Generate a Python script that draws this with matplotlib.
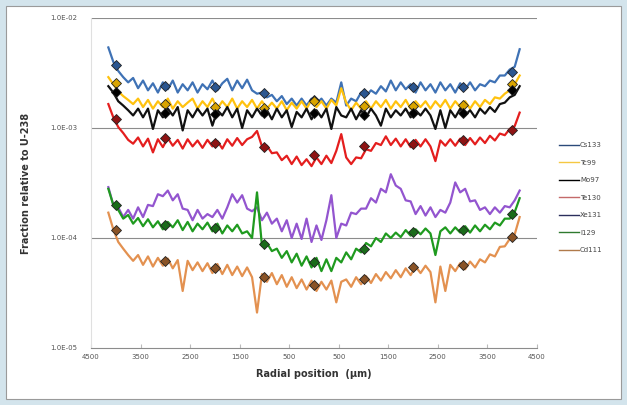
import numpy as np
import matplotlib
matplotlib.use("Agg")
import matplotlib.pyplot as plt
from matplotlib.patches import Rectangle

# radial positions (um), one reading every 100 um
radial = np.arange(-4150, 4151, 100)

cs133 = np.array([5.4, 4.0, 3.3, 2.9, 2.6, 2.85,
                  2.3, 2.7, 2.2, 2.55, 2.1, 2.6, 2.25, 2.7, 2.1, 2.5, 2.2, 2.6, 2.1, 2.5, 2.25, 2.7, 2.2, 2.55,
                  2.8, 2.2, 2.7, 2.3, 2.75, 2.2,
                  2.05, 2.1, 1.9, 2.0, 1.75, 1.95, 1.65, 1.85, 1.6, 1.85, 1.6, 1.85, 1.65, 1.85, 1.6, 1.85,
                  1.7, 2.6, 1.6, 1.85, 1.75, 2.1, 1.95, 2.2, 2.05, 2.4, 2.15, 2.7, 2.2, 2.6, 2.25, 2.5, 2.1, 2.6,
                  2.2, 2.5, 2.1, 2.6, 2.2, 2.5, 2.1, 2.55, 2.25, 2.6, 2.2, 2.5, 2.4, 2.7, 2.6, 3.0, 3.0, 3.4,
                  3.6, 5.2]) * 1e-3
tc99 = np.array([2.9, 2.5, 2.15, 1.95, 1.8, 1.65,
                 1.85, 1.55, 1.8, 1.5, 1.75, 1.55, 1.85, 1.5, 1.75, 1.55, 1.7, 1.85, 1.5, 1.75, 1.55, 1.85, 1.5, 1.75,
                 1.55, 1.85, 1.5, 1.75, 1.55, 1.8,
                 1.5, 1.75, 1.5, 1.7, 1.5, 1.75, 1.45, 1.7, 1.5, 1.75, 1.5, 1.8, 1.55, 1.75, 1.5, 1.8,
                 1.6, 2.3, 1.7, 1.45, 1.7, 1.5, 1.75, 1.5, 1.75, 1.55, 1.8, 1.5, 1.75, 1.55, 1.8, 1.5, 1.75, 1.55,
                 1.75, 1.5, 1.75, 1.55, 1.8, 1.5, 1.75, 1.55, 1.75, 1.5, 1.75, 1.55, 1.8, 1.65, 1.9, 1.85, 2.05, 2.2,
                 2.5, 3.0]) * 1e-3
mo97 = np.array([2.4, 2.1, 1.75, 1.6, 1.45, 1.3,
                 1.5, 1.25, 1.5, 0.98, 1.45, 1.25, 1.5, 1.3, 1.55, 0.95, 1.45, 1.25, 1.5, 1.3, 1.5, 1.05, 1.45, 1.3,
                 1.55, 1.25, 1.5, 1.0, 1.45, 1.25,
                 1.5, 1.3, 1.45, 1.2, 1.5, 1.25, 1.45, 1.02, 1.4, 1.25, 1.5, 1.2, 1.45, 1.25, 1.5, 0.98,
                 1.55, 1.3, 1.25, 1.5, 1.2, 1.45, 1.25, 1.5, 1.3, 1.05, 1.5, 1.25, 1.45, 1.3, 1.5, 1.25, 1.45, 1.3,
                 1.5, 1.3, 0.98, 1.45, 1.0, 1.45, 1.25, 1.5, 1.3, 1.45, 1.25, 1.5, 1.35, 1.55, 1.4, 1.65, 1.7, 1.9,
                 2.0, 2.4]) * 1e-3
te130 = np.array([16.5, 12.5, 10.2, 9.0, 7.8, 7.2,
                  8.2, 6.8, 8.0, 6.0, 7.9, 6.7, 8.1, 6.9, 7.8, 6.5, 7.9, 6.8, 7.7, 6.6, 7.8, 6.8, 7.6, 6.5,
                  7.9, 6.9, 8.1, 7.0, 7.9, 8.3,
                  9.4, 6.8, 6.9, 5.9, 6.0, 5.1, 5.6, 4.7, 5.5, 4.6, 5.2, 4.5, 5.4, 4.7, 5.6, 4.8,
                  6.2, 8.8, 5.4, 4.7, 5.4, 5.3, 6.4, 6.2, 7.3, 7.0, 8.4, 7.0, 8.0, 6.8, 7.9, 6.7, 7.8, 6.8,
                  7.9, 6.8, 5.0, 7.7, 6.9, 7.9, 6.9, 8.0, 7.0, 8.1, 7.1, 8.2, 7.3, 8.5, 7.7, 8.9, 8.6, 9.8,
                  10.4, 13.8]) * 1e-4
xe131 = np.array([2.9, 2.0, 1.9, 1.55, 1.8, 1.5,
                  1.9, 1.55, 2.0, 1.95, 2.5, 2.4, 2.7, 2.2, 2.5, 1.85, 1.8, 1.45, 1.8, 1.5, 1.65, 1.55, 1.8, 1.5,
                  1.9, 2.5, 2.1, 2.45, 1.85, 1.75,
                  1.9, 1.45, 1.7, 1.35, 1.5, 1.15, 1.45, 1.0, 1.35, 0.98, 1.5, 0.92, 1.3, 0.96, 1.45, 2.45,
                  1.0, 1.35, 1.3, 1.7, 1.65, 1.85, 1.85, 2.3, 2.1, 2.8, 2.6, 3.8, 3.0, 2.8, 2.2, 2.15, 1.65, 1.95,
                  1.6, 1.9, 1.55, 1.8, 1.7, 2.1, 3.2, 2.6, 2.8, 2.15, 2.2, 1.8, 1.9, 1.65, 1.9, 1.7, 1.95, 1.9,
                  2.2, 2.7]) * 1e-4
i129 = np.array([2.8, 2.0, 1.8, 1.5, 1.62, 1.35,
                 1.52, 1.28, 1.48, 1.25, 1.42, 1.2, 1.4, 1.25, 1.45, 1.18, 1.4, 1.15, 1.35, 1.2, 1.38, 1.15, 1.35, 1.1,
                 1.3, 1.15, 1.32, 1.1, 1.15, 1.0,
                 2.6, 0.85, 0.9, 0.76, 0.8, 0.66, 0.76, 0.6, 0.72, 0.56, 0.68, 0.54, 0.66, 0.5, 0.64, 0.5,
                 0.66, 0.6, 0.74, 0.64, 0.8, 0.74, 0.9, 0.84, 1.0, 0.92, 1.1, 1.0, 1.12, 1.02, 1.18, 1.05, 1.2, 1.08,
                 1.22, 1.1, 0.7, 1.15, 1.25, 1.1, 1.25, 1.12, 1.28, 1.12, 1.3, 1.15, 1.32, 1.2, 1.38, 1.3, 1.5, 1.5,
                 1.72, 2.3]) * 1e-4
cd111 = np.array([17, 12, 9.2, 8.0, 7.0, 6.2,
                  7.0, 5.7, 6.8, 5.5, 6.6, 5.6, 6.5, 5.3, 6.3, 3.3, 6.2, 5.1, 6.0, 5.0, 5.9, 4.8, 5.8, 4.7,
                  5.7, 4.6, 5.5, 4.5, 5.4, 4.4,
                  2.1, 4.7, 4.0, 4.8, 3.8, 4.6, 3.6, 4.4, 3.5, 4.2, 3.4, 4.1, 3.3, 4.0, 3.4, 4.1,
                  2.6, 4.0, 4.2, 3.6, 4.4, 3.8, 4.5, 3.9, 4.7, 4.1, 4.9, 4.3, 5.1, 4.4, 5.3, 4.6, 5.5, 4.8,
                  5.6, 4.9, 2.6, 5.5, 3.3, 5.7, 5.0, 5.9, 5.2, 6.1, 5.4, 6.4, 6.0, 7.1, 6.8, 8.3, 8.4, 9.8,
                  10.8, 15.5]) * 1e-5

# diamond markers every 1000 um
mark_x = [-4000, -3000, -2000, -1000, 0, 1000, 2000, 3000, 4000]
cs133_m = np.array([3.74, 2.41, 2.36, 2.08, 1.80, 2.08, 2.36, 2.36, 3.23]) * 1e-3
tc99_m = np.array([2.56, 1.66, 1.55, 1.52, 1.76, 1.58, 1.58, 1.62, 2.5]) * 1e-3
mo97_m = np.array([2.12, 1.37, 1.34, 1.37, 1.37, 1.31, 1.37, 1.37, 2.2]) * 1e-3
te130_m = np.array([12.0, 8.1, 7.3, 6.7, 5.7, 6.8, 7.2, 7.8, 9.6]) * 1e-4
i129_m = np.array([2.0, 1.31, 1.24, 0.88, 0.61, 0.80, 1.13, 1.18, 1.65]) * 1e-4
cd111_m = np.array([11.8, 6.2, 5.3, 4.4, 3.7, 4.2, 5.4, 5.7, 10.2]) * 1e-5

x_ticks = [-4500, -3500, -2500, -1500, -500, 500, 1500, 2500, 3500, 4500]
x_labels = ["4500", "3500", "2500", "1500", "500", "500", "1500", "2500", "3500", "4500"]
y_ticks = [1e-5, 1e-4, 1e-3, 1e-2]
y_labels = ["1.0E-05", "1.0E-04", "1.0E-03", "1.0E-02"]

# name, data, line colour, marker data, marker colour
series = [
    ("Cs133", cs133, "#3f72b5", cs133_m, "#2b5690"),
    ("Tc99", tc99, "#ffc20e", tc99_m, "#d9a400"),
    ("Mo97", mo97, "#111111", mo97_m, "#000000"),
    ("Te130", te130, "#e41e1e", te130_m, "#8e1414"),
    ("Xe131", xe131, "#9355cf", None, None),
    ("I129", i129, "#1f9a1f", i129_m, "#1a6b1a"),
    ("Cd111", cd111, "#e39150", cd111_m, "#8a5326"),
]
legend_colors = ["#2b4a7a", "#f5c842", "#000000", "#c46a6a", "#2b2f5c", "#2f7a2f", "#b07a4a"]

fig = plt.figure(figsize=(6.27, 4.05), dpi=100)
fig.patch.set_facecolor("#d3e4ec")
fig.patches.append(Rectangle((6 / 627, 6 / 405), 615 / 627, 393 / 405, transform=fig.transFigure,
                             facecolor="white", edgecolor="#9a9a9a", linewidth=0.8, zorder=-5))

ax = fig.add_axes([91 / 627, 1 - 348 / 405, 446 / 627, 330 / 405])
ax.set_facecolor("white")
ax.set_yscale("log")
ax.set_xlim(-4500, 4500)
ax.set_ylim(1e-5, 1e-2)

for yv in [1e-4, 1e-3, 1e-2]:
    ax.axhline(yv, color="#8c8c8c", linewidth=0.8, zorder=1)

handles = []
for (name, vals, col, mvals, mcol), lcol in zip(series, legend_colors):
    ax.plot(radial, vals, color=col, linewidth=1.6, zorder=3)
    if mvals is not None:
        ax.plot(mark_x, mvals, linestyle="none", marker="D", markersize=5.5,
                markerfacecolor=mcol, markeredgecolor="#222222", markeredgewidth=0.6, zorder=4)
    h, = ax.plot([], [], color=lcol, linewidth=1.0, label=name)
    handles.append(h)

for s in ["top", "right"]:
    ax.spines[s].set_visible(False)
ax.spines["left"].set_color("#e0e0e0")
ax.spines["bottom"].set_color("#8c8c8c")
ax.spines["bottom"].set_linewidth(0.8)

ax.set_xticks(x_ticks)
ax.set_xticklabels(x_labels, fontsize=5, color="#555555")
ax.set_yticks(y_ticks)
ax.set_yticklabels(y_labels, fontsize=5, color="#555555")
ax.minorticks_off()
ax.tick_params(axis="x", length=3, color="#bbbbbb", direction="in", pad=4)
ax.tick_params(axis="y", length=0, pad=10)

ax.set_xlabel("Radial position  (\u00b5m)", fontsize=7, fontweight="bold", color="#333333", labelpad=7)
ax.set_ylabel("Fraction relative to U-238", fontsize=7, fontweight="bold", color="#333333", labelpad=14)

fig.legend(handles=handles, loc="upper left", bbox_to_anchor=(553 / 627, 1 - 136 / 405),
           frameon=False, fontsize=5, handlelength=2.8, handletextpad=0.2, labelspacing=1.65,
           labelcolor="#444444")

fig.savefig("out.png", dpi=100, facecolor=fig.get_facecolor())
